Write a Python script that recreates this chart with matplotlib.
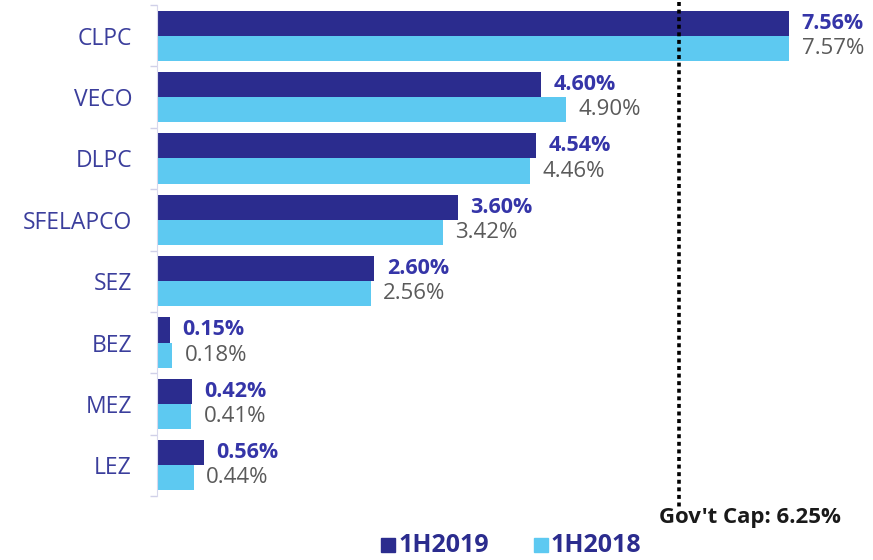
import matplotlib
matplotlib.use("Agg")
import matplotlib.pyplot as plt
from matplotlib.patches import Rectangle
import numpy as np

plt.rcParams['font.family'] = ['Open Sans', 'DejaVu Sans']

categories = ["CLPC", "VECO", "DLPC", "SFELAPCO", "SEZ", "BEZ", "MEZ", "LEZ"]
h2019 = [7.56, 4.60, 4.54, 3.60, 2.60, 0.15, 0.42, 0.56]
h2018 = [7.57, 4.90, 4.46, 3.42, 2.56, 0.18, 0.41, 0.44]
series_names = ["1H2019", "1H2018"]
gov_cap = 6.25

dark = "#2B2C8E"
light = "#5DC9F1"
cat_color = "#3B3E9C"

fig = plt.figure(figsize=(8.73, 5.6), dpi=100)
ax = fig.add_axes([157/873, 1-496/560, 700/873, 491/560])

y = np.arange(len(categories))
bh = 0.41
ax.barh(y - bh/2, h2019, height=bh, color=dark)
ax.barh(y + bh/2, h2018, height=bh, color=light)

for yi, v in zip(y, h2019):
    ax.text(v + 0.15, yi - bh/2, f"{v:.2f}%", va="center", ha="left",
            fontsize=15.5, fontweight="bold", color="#3535A8")
for yi, v in zip(y, h2018):
    ax.text(v + 0.15, yi + bh/2, f"{v:.2f}%", va="center", ha="left",
            fontsize=16, color="#5a5a5a")

ax.set_xlim(0, 8.38)
ax.set_ylim(len(categories) - 0.5, -0.5)
ax.set_yticks(y)
ax.set_yticklabels(categories, fontsize=16.5, color=cat_color)
ax.tick_params(axis="y", length=0, pad=18)
ax.set_yticks(np.arange(len(categories) + 1) - 0.5, minor=True)
ax.tick_params(axis="y", which="minor", length=5, color="#D0D0E8", width=1)
ax.set_xticks([])
for s in ["top", "right", "bottom"]:
    ax.spines[s].set_visible(False)
ax.spines["left"].set_color("#D8D8EC")

ax.plot([gov_cap, gov_cap], [-0.55, 7.68], color="black", lw=2.6,
        linestyle=(0, (1.1, 1.0)), clip_on=False)
ax.text(gov_cap - 0.24, 7.85, f"Gov't Cap: {gov_cap:.2f}%", ha="left", va="center",
        fontsize=16, fontweight="bold", color="#1a1a1a")

# legend (manual)
leg_y = 1 - 545/560
sq = 14
for (x0, name, col) in [(381, series_names[0], dark), (534, series_names[1], light)]:
    fig.patches.append(Rectangle((x0/873, leg_y - (sq/2)/560), sq/873, sq/560,
                                 transform=fig.transFigure, color=col))
    fig.text((x0 + sq + 3)/873, leg_y, name, ha="left", va="center",
             fontsize=18, fontweight="bold", color="#2B2C8E")

fig.savefig("out.png", dpi=100)
